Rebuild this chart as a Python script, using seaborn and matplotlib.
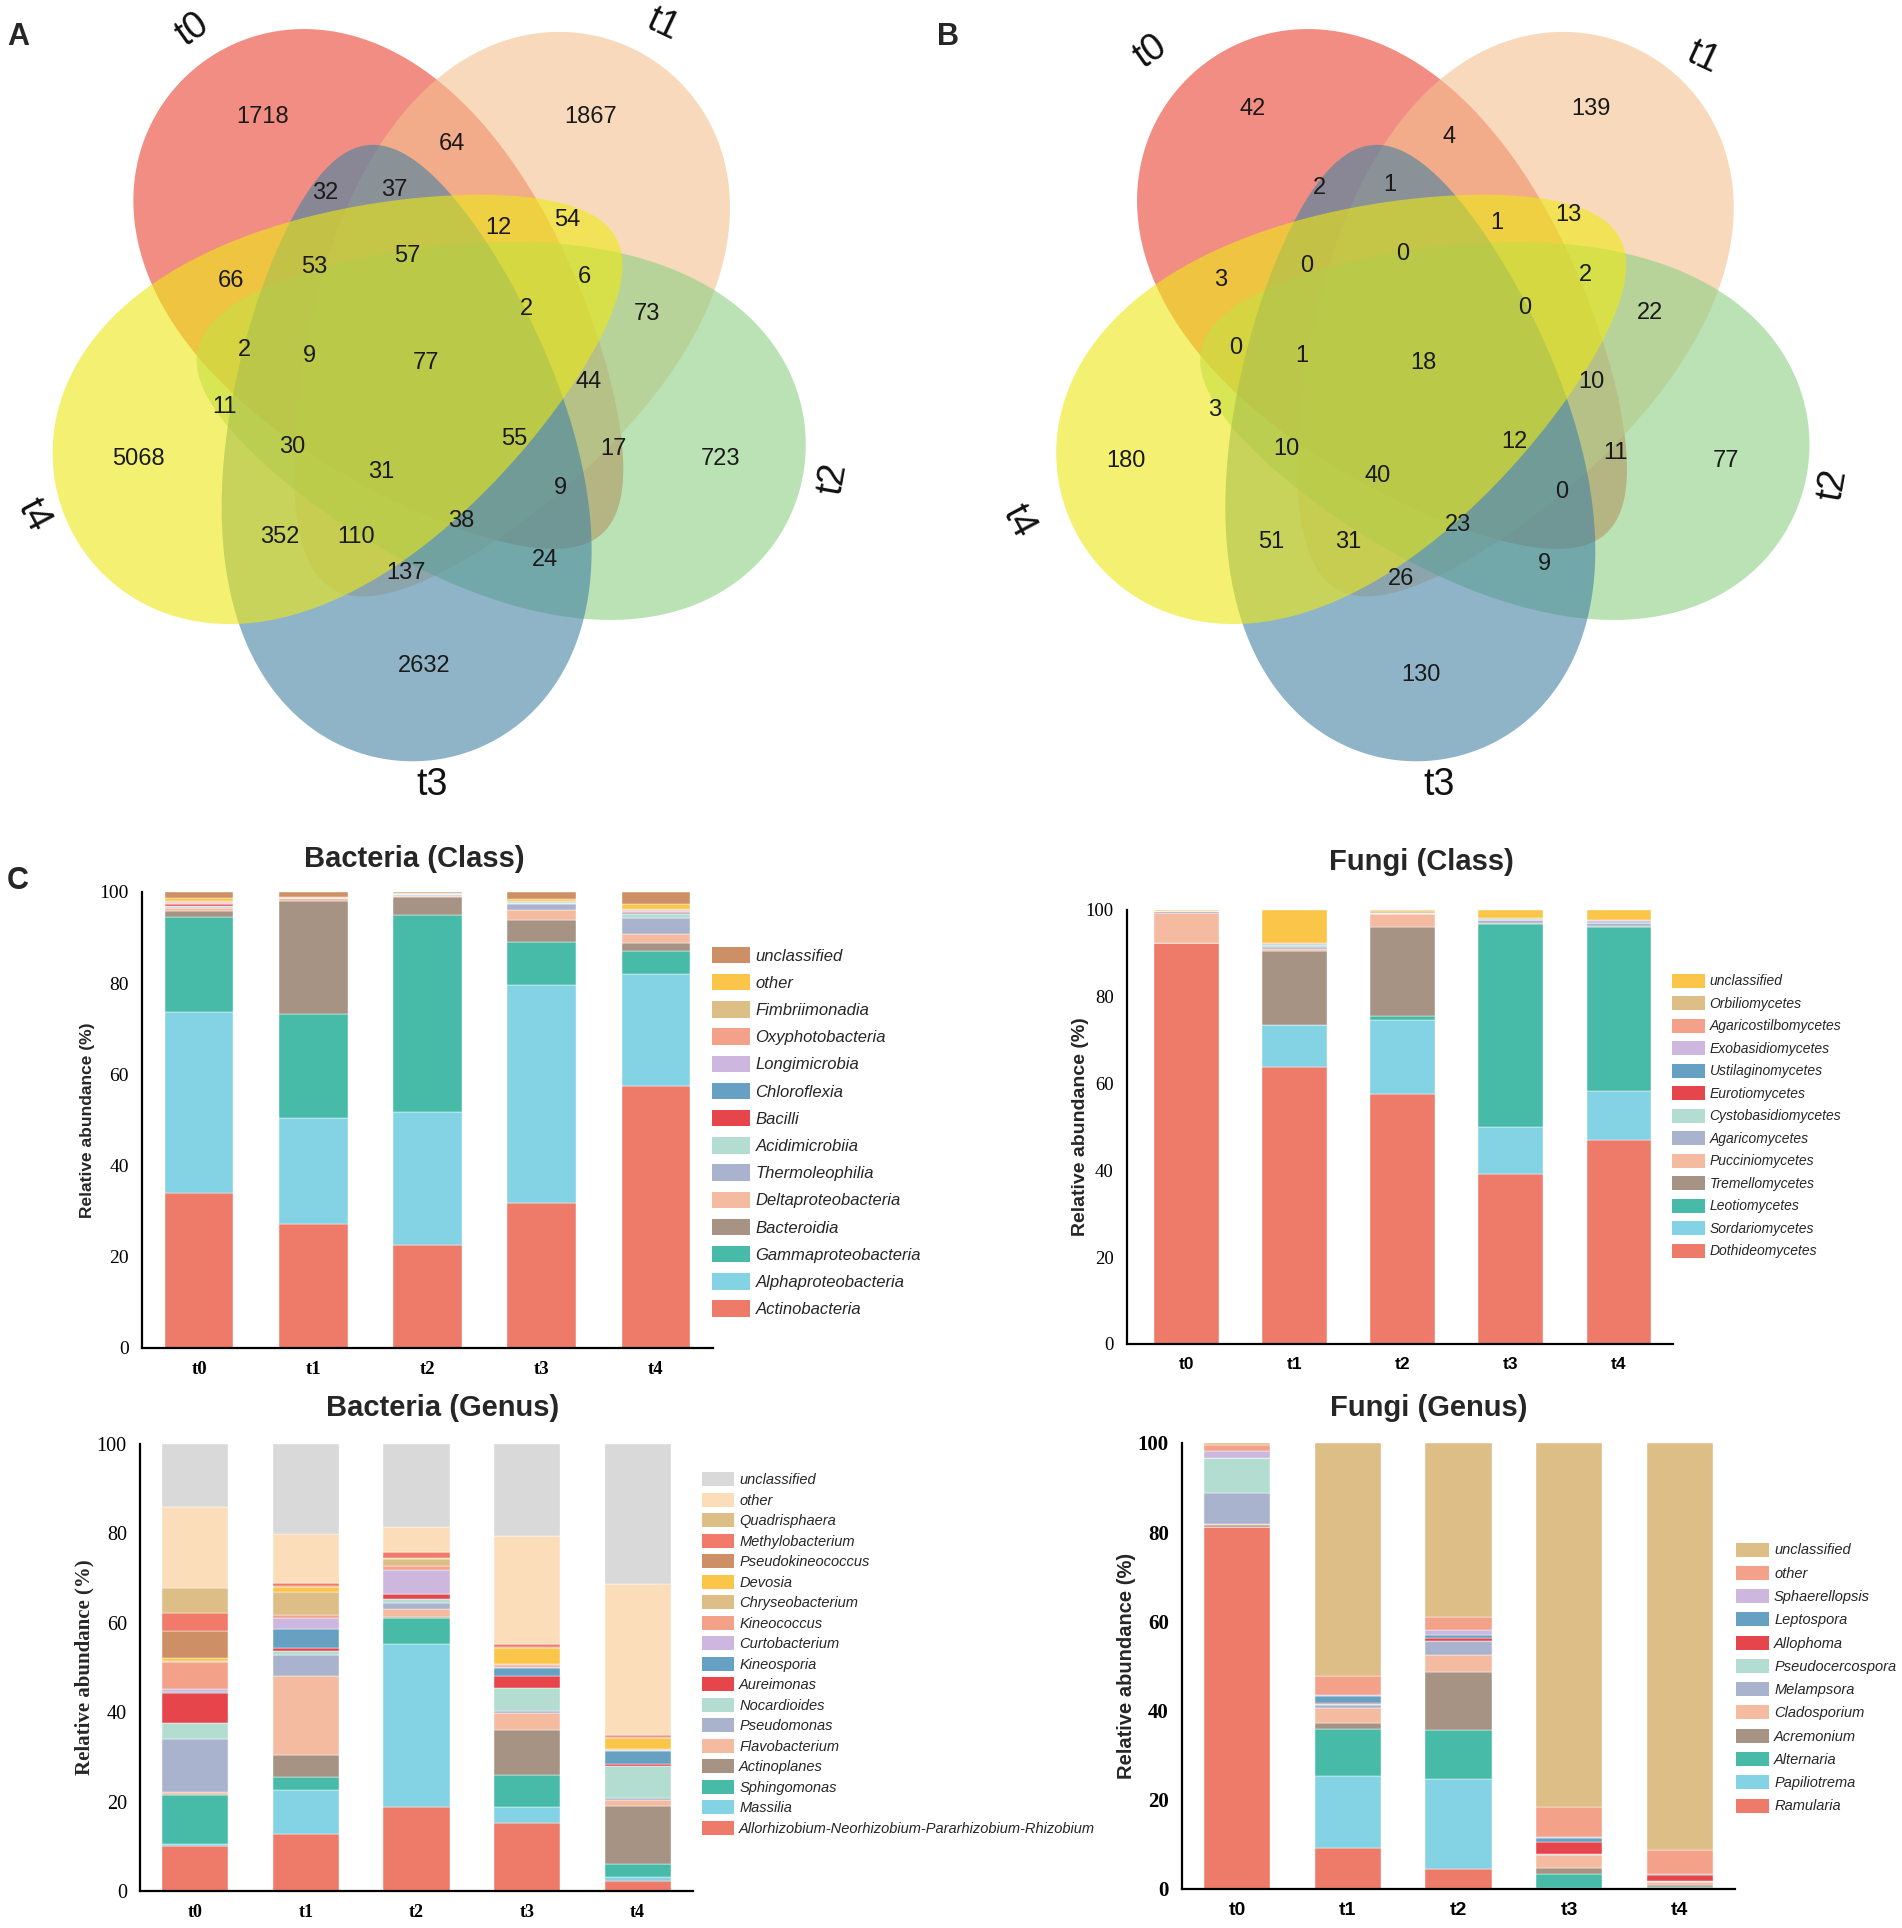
import numpy as np
import pandas as pd
import seaborn as sns
import matplotlib.pyplot as plt
from matplotlib.patches import Patch, Polygon

sns.set_style('white')
plt.rcParams['font.family'] = ['Liberation Sans', 'DejaVu Sans']

SANS = 'Liberation Sans'
SERIF = 'Liberation Serif'

W, H = 1902, 1928
S = 1.227  # layout below was measured on a 1550 px wide copy

samples = ['t0', 't1', 't2', 't3', 't4']

# ---------------- Venn counts (31 regions, same region order in both) ----
bact_venn = [1718, 64, 1867, 32, 37, 12, 54, 66, 53, 57, 2, 6, 73, 2, 9, 77,
             44, 11, 5068, 30, 31, 55, 17, 723, 9, 352, 110, 38, 24, 137, 2632]
fungi_venn = [42, 4, 139, 2, 1, 1, 13, 3, 0, 0, 0, 2, 22, 0, 1, 18,
              10, 3, 180, 10, 40, 12, 11, 77, 0, 51, 31, 23, 9, 26, 130]

# ---------------- Bacteria (Class), bottom -> top ----------------
bact_class_taxa = ['Actinobacteria', 'Alphaproteobacteria', 'Gammaproteobacteria',
                   'Bacteroidia', 'Deltaproteobacteria', 'Thermoleophilia',
                   'Acidimicrobiia', 'Bacilli', 'Chloroflexia', 'Longimicrobia',
                   'Oxyphotobacteria', 'Fimbriimonadia', 'other', 'unclassified']
bact_class_colors = ['#EE7B6A', '#84D3E5', '#47BBA7', '#A69383', '#F5BBA1', '#A9B3CE',
                     '#B3DDD1', '#E5454B', '#66A1C4', '#CDB7DE', '#F4A18A', '#DDBE87',
                     '#FBC54A', '#CD8F66']
bact_class_values = [
    [34.1, 27.2, 22.6, 31.9, 57.4],
    [39.5, 23.2, 29.2, 47.6, 24.7],
    [21.0, 22.8, 43.1, 9.6, 4.9],
    [1.2, 24.9, 4.0, 4.7, 1.8],
    [0.8, 0.5, 0.2, 2.3, 2.0],
    [0.2, 0.05, 0.3, 1.2, 3.4],
    [0.1, 0.05, 0.1, 0.2, 1.0],
    [0.4, 0.0, 0.0, 0.0, 0.1],
    [0.1, 0.0, 0.0, 0.2, 0.4],
    [0.1, 0.0, 0.0, 0.1, 0.1],
    [0.3, 0.1, 0.1, 0.1, 0.2],
    [0.3, 0.0, 0.1, 0.2, 0.2],
    [0.6, 0.1, 0.1, 0.3, 1.2],
    [1.3, 1.1, 0.2, 1.6, 2.6],
]

# ---------------- Fungi (Class) ----------------
fungi_class_taxa = ['Dothideomycetes', 'Sordariomycetes', 'Leotiomycetes',
                    'Tremellomycetes', 'Pucciniomycetes', 'Agaricomycetes',
                    'Cystobasidiomycetes', 'Eurotiomycetes', 'Ustilaginomycetes',
                    'Exobasidiomycetes', 'Agaricostilbomycetes', 'Orbiliomycetes',
                    'unclassified']
fungi_class_colors = ['#EE7B6A', '#84D3E5', '#47BBA7', '#A69383', '#F5BBA1', '#A9B3CE',
                      '#B3DDD1', '#E5454B', '#66A1C4', '#CDB7DE', '#F4A18A', '#DDBE87',
                      '#FBC54A']
fungi_class_values = [
    [92.4, 63.9, 57.5, 39.2, 47.1],
    [0.0, 9.6, 17.1, 10.7, 11.2],
    [0.0, 0.1, 0.9, 46.9, 37.8],
    [0.1, 16.9, 20.6, 0.2, 0.1],
    [6.9, 0.5, 2.9, 0.1, 0.1],
    [0.3, 0.4, 0.1, 0.5, 0.6],
    [0.0, 0.5, 0.1, 0.1, 0.1],
    [0.0, 0.1, 0.0, 0.1, 0.1],
    [0.0, 0.1, 0.0, 0.1, 0.1],
    [0.0, 0.1, 0.0, 0.0, 0.4],
    [0.0, 0.1, 0.1, 0.1, 0.1],
    [0.1, 0.1, 0.5, 0.1, 0.1],
    [0.2, 7.6, 0.2, 1.9, 2.2],
]

# ---------------- Bacteria (Genus) ----------------
bact_genus_taxa = ['Allorhizobium-Neorhizobium-Pararhizobium-Rhizobium', 'Massilia',
                   'Sphingomonas', 'Actinoplanes', 'Flavobacterium', 'Pseudomonas',
                   'Nocardioides', 'Aureimonas', 'Kineosporia', 'Curtobacterium',
                   'Kineococcus', 'Chryseobacterium', 'Devosia', 'Pseudokineococcus',
                   'Methylobacterium', 'Quadrisphaera', 'other', 'unclassified']
bact_genus_colors = ['#EE7B6A', '#84D3E5', '#47BBA7', '#A69383', '#F5BBA1', '#A9B3CE',
                     '#B3DDD1', '#E5454B', '#66A1C4', '#CDB7DE', '#F4A18A', '#DDBE87',
                     '#FBC54A', '#CD8F66', '#F27A6A', '#DDBE87', '#FCDDBA', '#D9D9D9']
bact_genus_values = [
    [10.0, 12.7, 18.8, 15.2, 2.3],
    [0.5, 10.0, 36.5, 3.6, 0.9],
    [11.0, 2.8, 5.8, 7.2, 2.8],
    [0.2, 5.0, 0.1, 10.1, 13.0],
    [0.4, 17.7, 1.9, 3.7, 1.4],
    [11.9, 4.6, 1.3, 0.5, 0.4],
    [3.6, 1.0, 1.0, 5.2, 7.1],
    [6.7, 0.5, 1.0, 2.7, 0.5],
    [0.3, 4.3, 0.1, 1.7, 2.9],
    [0.7, 2.5, 5.3, 0.3, 0.2],
    [5.9, 0.7, 1.0, 0.4, 0.1],
    [0.3, 5.0, 1.5, 0.1, 0.1],
    [0.7, 1.2, 0.2, 3.7, 2.6],
    [6.0, 0.2, 0.1, 0.1, 0.2],
    [3.9, 0.7, 1.2, 0.8, 0.3],
    [5.7, 0.0, 0.1, 0.0, 0.1],
    [18.1, 11.0, 5.5, 24.2, 33.8],
    [14.1, 20.1, 18.6, 20.5, 31.3],
]

# ---------------- Fungi (Genus) ----------------
fungi_genus_taxa = ['Ramularia', 'Papiliotrema', 'Alternaria', 'Acremonium',
                    'Cladosporium', 'Melampsora', 'Pseudocercospora', 'Allophoma',
                    'Leptospora', 'Sphaerellopsis', 'other', 'unclassified']
fungi_genus_colors = ['#EE7B6A', '#84D3E5', '#47BBA7', '#A69383', '#F5BBA1', '#A9B3CE',
                      '#B3DDD1', '#E5454B', '#66A1C4', '#CDB7DE', '#F4A18A', '#DDBE87']
fungi_genus_values = [
    [81.2, 9.2, 4.5, 0.1, 0.2],
    [0.0, 16.2, 20.1, 0.1, 0.1],
    [0.0, 10.4, 11.0, 3.1, 0.1],
    [0.5, 1.4, 13.1, 1.5, 0.6],
    [0.1, 3.4, 3.8, 2.9, 0.5],
    [7.0, 0.6, 3.0, 0.1, 0.1],
    [7.9, 0.2, 0.2, 0.0, 0.1],
    [0.0, 0.4, 0.5, 2.8, 1.5],
    [0.0, 1.5, 0.8, 0.9, 0.1],
    [1.5, 0.2, 1.0, 0.1, 0.1],
    [1.4, 4.2, 2.9, 6.7, 5.4],
    [0.4, 52.3, 39.1, 81.6, 91.1],
]

# ---------------- Venn layout (units of the 1550 px copy) ----------------
venn_a_xy = [(214, 95), (368, 117), (481, 95), (265, 157), (321, 155), (406, 186),
             (462, 179), (188, 229), (256, 218), (332, 209), (429, 252), (476, 226),
             (527, 256), (199, 285), (252, 290), (347, 296), (480, 311), (183, 332),
             (113, 374), (238, 364), (311, 385), (419, 358), (500, 366), (587, 374),
             (457, 398), (228, 438), (290, 438), (376, 425), (444, 456), (331, 467),
             (346, 543)]
venn_b_xy = [(1021, 89), (1181, 112), (1297, 89), (1075, 153), (1133, 151), (1220, 182),
             (1278, 175), (995, 228), (1065, 217), (1143, 207), (1243, 251), (1292, 224),
             (1345, 255), (1007, 284), (1061, 290), (1160, 296), (1297, 311), (990, 334),
             (918, 376), (1048, 366), (1123, 388), (1234, 360), (1317, 369), (1407, 376),
             (1273, 401), (1036, 442), (1099, 442), (1188, 428), (1259, 460), (1142, 472),
             (1158, 550)]
venn_a_setlab = [(157, 24, 35), (540, 20, -25), (679, 390, 80), (352, 640, 0), (27, 420, -62)]
venn_b_setlab = [(938, 42, 35), (1388, 47, -25), (1494, 395, 80), (1173, 640, 0), (830, 425, -62)]

venn_sets = ['t0', 't1', 't2', 't3', 't4']
venn_colors = ['#E9412F', '#F5C18E', '#8CD085', '#4482A3', '#EDE914']
venn_rot = [216, 144, 72, 0, 293]          # each lobe = bottom lobe turned about the centre
venn_shift = [(4, 20), (-5, 12), (0, 0), (0, 0), (10, 8)]
EGG_A, EGG_B, EGG_K = 252, 144, 0.3
EGG_OFF, EGG_ANG = (-20, -72), -84.3


def lobe(cx, cy, rot, scale, shift):
    t = np.linspace(0, 2 * np.pi, 400)
    u = EGG_A * np.cos(t)
    v = EGG_B * np.sin(t) * (1 + EGG_K * np.cos(t))
    g = np.deg2rad(EGG_ANG)
    x = EGG_OFF[0] + u * np.cos(g) - v * np.sin(g)
    y = EGG_OFF[1] + u * np.sin(g) + v * np.cos(g)
    r = np.deg2rad(rot)
    xr = x * np.cos(r) - y * np.sin(r)
    yr = x * np.sin(r) + y * np.cos(r)
    return np.column_stack([cx + shift[0] + scale * xr, cy + shift[1] - scale * yr])


def venn(ax, cx, cy, scale, counts, xy, setlab):
    for rot, sh, col in zip(venn_rot, venn_shift, venn_colors):
        ax.add_patch(Polygon(lobe(cx, cy, rot, scale, sh), closed=True,
                             facecolor=col, edgecolor='none', alpha=0.6))
    for n, (x, y) in zip(counts, xy):
        ax.text(x, y, str(n), ha='center', va='center', fontsize=17,
                family=SANS, color='#1a1a1a')
    for name, (x, y, r) in zip(venn_sets, setlab):
        ax.text(x, y, name, ha='center', va='center', rotation=r,
                rotation_mode='anchor', fontsize=27, family=SANS, color='#111111')


fig = plt.figure(figsize=(W / 100, H / 100), dpi=100)

vax = fig.add_axes([0, 0, 1, 1])
vax.set_xlim(0, W / S)
vax.set_ylim(H / S, 0)
vax.axis('off')
vax.patch.set_alpha(0)
venn(vax, 345, 297, 1.0, bact_venn, venn_a_xy, venn_a_setlab)
venn(vax, 1163, 297, 1.0, fungi_venn, venn_b_xy, venn_b_setlab)


def abundance(box, taxa, colors, values, title, title_xy, ylab_font, ylab_size, ylab_x,
              ytick_font, ytick_weight, ytick_size, xtick_font, xtick_size,
              leg_x, leg_y, leg_size, handle_len, handle_h, spacing, xleft=-0.5):
    l, t, r, b = box
    ax = fig.add_axes([l / W, 1 - b / H, (r - l) / W, (b - t) / H])
    df = pd.DataFrame(values, index=taxa, columns=samples).rename_axis('taxon').reset_index()
    long = df.melt(id_vars='taxon', var_name='sample', value_name='pct')
    sns.histplot(data=long, x='sample', weights='pct', hue='taxon', hue_order=taxa[::-1],
                 palette=dict(zip(taxa, colors)), multiple='stack', discrete=True,
                 shrink=0.6, alpha=1, edgecolor='white', linewidth=0.3,
                 legend=False, ax=ax)
    ax.set_xlim(xleft, 4.5)
    ax.set_ylim(0, 100)
    ax.set_yticks(range(0, 101, 20))
    ax.set_yticklabels([str(v) for v in range(0, 101, 20)], family=ytick_font,
                       fontweight=ytick_weight, fontsize=ytick_size)
    ax.set_xticks(range(len(samples)))
    ax.set_xticklabels(samples, family=xtick_font, fontweight='bold', fontsize=xtick_size)
    ax.set_xlabel('')
    ax.set_ylabel('Relative abundance (%)', family=ylab_font, fontweight='bold',
                  fontsize=ylab_size, va='center')
    ax.yaxis.set_label_coords(ylab_x, 0.5)
    sns.despine(ax=ax)
    for sp in ('left', 'bottom'):
        ax.spines[sp].set_linewidth(1.6)
        ax.spines[sp].set_color('black')
    ax.tick_params(axis='both', direction='out', length=6, width=1.4, color='black',
                   labelcolor='black')
    ax.grid(False)
    handles = [Patch(facecolor=c, edgecolor='none') for c in colors[::-1]]
    ax.legend(handles, taxa[::-1], loc='center left',
              bbox_to_anchor=(leg_x / W, 1 - leg_y / H), bbox_transform=fig.transFigure,
              frameon=False, borderpad=0, borderaxespad=0, handlelength=handle_len,
              handleheight=handle_h, handletextpad=0.35, labelspacing=spacing,
              prop={'family': SANS, 'style': 'italic', 'size': leg_size})
    fig.text(title_xy[0] / W, 1 - title_xy[1] / H, title, ha='center', va='center',
             fontsize=21, fontweight='bold', family=SANS)
    return ax


abundance((142, 892, 713, 1348), bact_class_taxa, bact_class_colors, bact_class_values,
          'Bacteria (Class)', (414, 859), SANS, 12.5, -0.095,
          SERIF, 'normal', 14, SERIF, 13.5,
          712, 1132, 12, 2.25, 1.14, 0.62)
abundance((1127, 910, 1673, 1344), fungi_class_taxa, fungi_class_colors, fungi_class_values,
          'Fungi (Class)', (1421, 862), SANS, 14, -0.085,
          SERIF, 'normal', 13.5, SANS, 12.5,
          1672, 1116, 10, 2.35, 1.18, 0.56, xleft=-0.55)
abundance((140, 1444, 693, 1891), bact_genus_taxa, bact_genus_colors, bact_genus_values,
          'Bacteria (Genus)', (443, 1408), SERIF, 15, -0.1,
          SERIF, 'normal', 14.5, SERIF, 13,
          702, 1654, 10.5, 2.2, 1.1, 0.38)
abundance((1182, 1443, 1735, 1889), fungi_genus_taxa, fungi_genus_colors, fungi_genus_values,
          'Fungi (Genus)', (1429, 1408), SANS, 14.5, -0.1,
          SERIF, 'bold', 15, SANS, 14,
          1736, 1678, 10.5, 2.26, 1.1, 0.57)

for letter, (x, y) in zip('ABC', [(18, 37), (948, 37), (18, 881)]):
    fig.text(x / W, 1 - y / H, letter, ha='center', va='center', fontsize=22,
             fontweight='bold', family=SANS)

fig.savefig('out.png', dpi=100)
